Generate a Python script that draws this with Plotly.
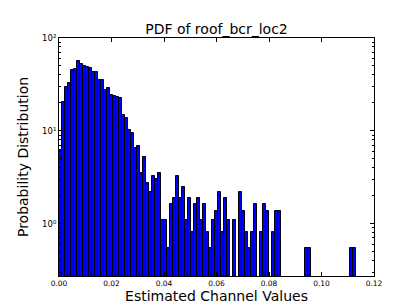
import numpy as np
import plotly.graph_objects as go

# Histogram (density) of estimated channel values: 99 equal bins from 0 to 0.11327
bin_lo = 0.0
bin_hi = 0.11327
n_bins = 99
density = [
    6.2, 20.4, 29.6, 33.1, 45.2, 46.3, 56.2, 52.2, 49.8, 49.0,
    48.1, 43.3, 43.3, 35.4, 35.4, 27.3, 28.9, 24.6, 24.0, 23.0,
    22.6, 14.9, 13.6, 10.1, 9.4, 6.54, 6.81, 3.54, 5.18, 2.73,
    2.18, 3.27, 3.0, 3.54, 1.09, 1.09, 0.545, 1.635, 1.91, 3.27,
    1.91, 2.45, 1.09, 1.91, 0.82, 1.635, 1.91, 1.09, 1.635, 0.82,
    0.545, 1.09, 1.36, 2.18, 0.82, 1.91, 1.09, 0, 1.09, 0,
    2.18, 1.36, 0.82, 0.545, 0.82, 1.635, 0, 0.82, 1.635, 1.36,
    0, 0.82, 1.36, 1.36, 0, 0, 0, 0, 0, 0,
    0, 0, 0.545, 0.545, 0, 0, 0, 0, 0, 0,
    0, 0, 0, 0, 0, 0, 0, 0.545, 0.545,
]
x_ticks = [0.0, 0.02, 0.04, 0.06, 0.08, 0.10, 0.12]
x_tick_labels = ["0.00", "0.02", "0.04", "0.06", "0.08", "0.10", "0.12"]
y_ticks = [1, 10, 100]
y_tick_labels = ["10⁰", "10¹", "10²"]
y_floor = 0.2725  # lower y limit (one-sample density)

edges = np.linspace(bin_lo, bin_hi, n_bins + 1)
width = edges[1] - edges[0]
centers = (edges[:-1] + edges[1:]) / 2
yvals = [v if v > 0 else None for v in density]

minor_vals = [m * 10.0 ** e for e in (-1, 0, 1) for m in range(2, 10)]
minor_vals = [v for v in minor_vals if v > y_floor]

font = "DejaVu Sans"
fig = go.Figure(
    go.Bar(
        x=centers, y=yvals, width=width,
        marker=dict(color="#0000ff", line=dict(color="black", width=1)),
    )
)
fig.update_layout(
    width=407, height=305,
    margin=dict(l=51, r=41, t=30, b=32),
    paper_bgcolor="white", plot_bgcolor="white",
    showlegend=False, bargap=0,
    font=dict(family=font, color="black"),
    title=dict(text="PDF of roof_bcr_loc2", x=0.5, xref="paper", xanchor="center",
               y=1 - 21.5 / 305, yanchor="middle", font=dict(size=14, family=font)),
)
fig.update_xaxes(
    range=[0, 0.12], tickvals=x_ticks, ticktext=x_tick_labels,
    showline=True, linecolor="black", linewidth=1, mirror="allticks",
    ticks="inside", ticklen=4, tickcolor="black", showgrid=False, zeroline=False,
    tickfont=dict(size=7.5, family=font), ticklabelstandoff=0,
    title=dict(text="Estimated Channel Values", font=dict(size=14, family=font), standoff=3),
)
fig.update_yaxes(
    type="log", range=[np.log10(y_floor), 2], tickvals=y_ticks, ticktext=y_tick_labels,
    showline=True, linecolor="black", linewidth=1, mirror="allticks",
    ticks="inside", ticklen=4, tickcolor="black", showgrid=False, zeroline=False,
    tickfont=dict(size=8.5, family=font),
    minor=dict(tickvals=minor_vals, ticks="inside", ticklen=2, tickcolor="black", showgrid=False),
    title=dict(text="Probability Distribution", font=dict(size=14, family=font), standoff=10),
)
fig.write_html("out.html")
